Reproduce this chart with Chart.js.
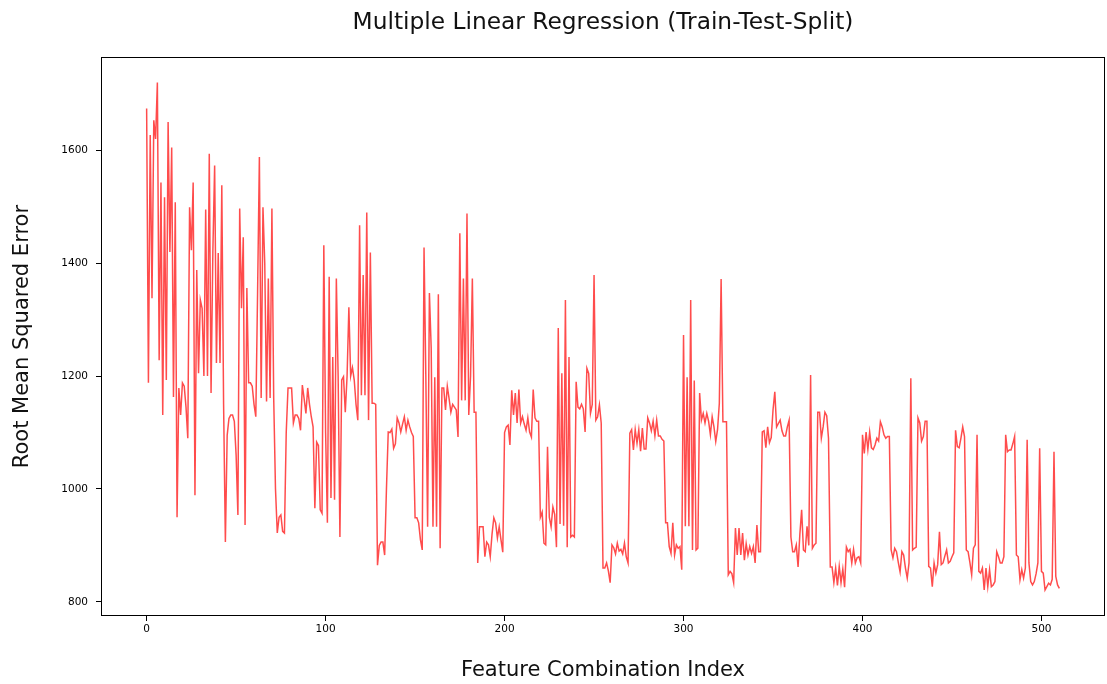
<!DOCTYPE html>
<html>
<head>
<meta charset="utf-8">
<title>Multiple Linear Regression (Train-Test-Split)</title>
<script src="https://cdn.jsdelivr.net/npm/chart.js@4.4.1/dist/chart.umd.min.js"></script>
<style>
  html, body { margin: 0; padding: 0; background: #fff; }
  canvas { display: block; }
</style>
</head>
<body>
<canvas id="rmse" width="1107" height="684"></canvas>
<script>
// RMSE of every feature combination (index 0..510)
var rmse = [
  1674, 1188, 1627, 1338, 1653, 1620, 1720, 1228, 1543, 1131,
  1517, 1193, 1650, 1420, 1605, 1163, 1508, 950, 1179, 1131,
  1188, 1182, 1145, 1090, 1499, 1423, 1543, 989, 1388, 1205,
  1335, 1320, 1200, 1495, 1200, 1594, 1170, 1420, 1573, 1223,
  1418, 1223, 1538, 1150, 906, 1095, 1125, 1131, 1131, 1120,
  1060, 954, 1497, 1320, 1446, 936, 1356, 1188, 1188, 1182,
  1150, 1128, 1350, 1588, 1161, 1499, 1400, 1155, 1373, 1161,
  1497, 1161, 1000, 922, 950, 954, 925, 922, 1100, 1179,
  1179, 1179, 1117, 1131, 1131, 1125, 1104, 1184, 1160, 1134,
  1179, 1150, 1128, 1110, 966, 1083, 1077, 963, 957, 1432,
  1100, 940, 1376, 984, 1234, 981, 1373, 1200, 915, 1193,
  1199, 1136, 1200, 1322, 1200, 1215, 1193, 1150, 1122, 1467,
  1166, 1379, 1166, 1490, 1122, 1419, 1152, 1152, 1150, 865,
  900, 906, 906, 883, 1000, 1101, 1100, 1106, 1072, 1080,
  1126, 1117, 1101, 1115, 1128, 1104, 1122, 1110, 1100, 1093,
  949, 949, 940, 910, 892, 1428, 1200, 933, 1347, 1250,
  933, 1198, 933, 1345, 895, 1179, 1179, 1140, 1182, 1160,
  1136, 1150, 1145, 1140, 1092, 1453, 1157, 1373, 1157, 1488,
  1131, 1200, 1373, 1136, 1136, 869, 933, 933, 933, 880,
  906, 901, 880, 920, 949, 940, 913, 933, 910, 888,
  1100, 1110, 1113, 1078, 1175, 1131, 1170, 1117, 1176, 1117,
  1128, 1115, 1104, 1126, 1101, 1092, 1176, 1126, 1120, 1120,
  950, 959, 904, 901, 1075, 950, 933, 968, 955, 897,
  1285, 938, 1205, 935, 1335, 897, 1234, 915, 918, 915,
  1190, 1145, 1142, 1150, 1142, 1101, 1214, 1205, 1134, 1150,
  1379, 1122, 1128, 1149, 1117, 860, 860, 869, 855, 834,
  901, 896, 885, 904, 890, 893, 885, 904, 880, 869,
  1099, 1105, 1069, 1105, 1081, 1105, 1067, 1108, 1071, 1071,
  1126, 1117, 1103, 1120, 1094, 1122, 1094, 1094, 1088, 1085,
  940, 940, 898, 886, 940, 883, 901, 895, 898, 857,
  1273, 934, 1198, 934, 1335, 892, 1192, 892, 895, 1170,
  1122, 1134, 1117, 1134, 1120, 1096, 1128, 1110, 1084, 1105,
  1152, 1372, 1119, 1119, 1119, 848, 854, 850, 834, 931,
  883, 931, 883, 922, 874, 903, 883, 898, 886, 898,
  869, 936, 889, 889, 1101, 1103, 1073, 1110, 1082, 1091,
  1140, 1172, 1110, 1116, 1122, 1103, 1094, 1094, 1110, 1122,
  915, 889, 889, 901, 862, 920, 963, 892, 889, 934,
  900, 1202, 895, 901, 904, 1136, 1136, 1090, 1110, 1136,
  1130, 1090, 862, 862, 834, 860, 829, 863, 834, 858,
  826, 897, 889, 893, 869, 893, 869, 878, 880, 869,
  1096, 1063, 1101, 1070, 1101, 1073, 1070, 1078, 1090, 1085,
  1119, 1110, 1096, 1090, 1093, 1093, 892, 878, 895, 889,
  870, 853, 889, 883, 860, 842, 869, 1196, 892, 895,
  897, 1126, 1117, 1085, 1093, 1120, 1120, 863, 860, 827,
  869, 851, 866, 924, 866, 869, 881, 892, 869, 872,
  880, 887, 1104, 1075, 1073, 1090, 1110, 1093, 892, 889,
  870, 848, 895, 901, 1096, 854, 851, 860, 821, 860,
  827, 857, 827, 830, 836, 889, 880, 869, 869, 880,
  1096, 1066, 1069, 1069, 1080, 1093, 883, 880, 839, 857,
  842, 860, 1087, 869, 836, 830, 836, 850, 869, 1072,
  854, 851, 821, 827, 833, 830, 840, 1066, 845, 830,
  824
];

var xTicks = [0, 100, 200, 300, 400, 500];
var yTicks = [800, 1000, 1200, 1400, 1600];

var points = rmse.map(function (v, i) { return { x: i, y: v }; });

// frame around the plot area, like matplotlib spines
var frame = {
  id: "frame",
  afterDraw: function (chart) {
    var a = chart.chartArea;
    var c = chart.ctx;
    c.save();
    c.strokeStyle = "#000";
    c.lineWidth = 1;
    c.strokeRect(Math.round(a.left) + 0.5, Math.round(a.top) + 0.5,
                 Math.round(a.right - a.left) - 1, Math.round(a.bottom - a.top) - 1);
    c.restore();
  }
};

var tickFont = { family: "DejaVu Sans", size: 10.5 };
var labelFont = { family: "DejaVu Sans", size: 21 };
var plain = function (v) { return String(v); };

new Chart(document.getElementById("rmse").getContext("2d"), {
  type: "line",
  data: {
    datasets: [{
      data: points,
      borderColor: "rgba(255, 0, 0, 0.7)",
      borderWidth: 1.5,
      pointRadius: 0,
      tension: 0,
      fill: false
    }]
  },
  options: {
    responsive: false,
    animation: false,
    devicePixelRatio: 1,
    layout: { padding: { left: 0, right: 2, top: 0, bottom: 0 } },
    plugins: {
      legend: { display: false },
      tooltip: { enabled: false },
      title: {
        display: true,
        fullSize: false,
        text: "Multiple Linear Regression (Train-Test-Split)",
        color: "#111",
        font: { family: "DejaVu Sans", size: 23.3, weight: "normal" },
        padding: { top: 9, bottom: 20.2 }
      }
    },
    scales: {
      x: {
        type: "linear",
        min: -25.5,
        max: 535.5,
        afterBuildTicks: function (s) { s.ticks = xTicks.map(function (v) { return { value: v }; }); },
        afterFit: function (s) { s.height = 68; },
        grid: { display: true, drawOnChartArea: false, drawTicks: true, tickLength: 5, color: "#000" },
        border: { display: false },
        ticks: { color: "#000", font: tickFont, padding: 2, maxRotation: 0, callback: plain },
        title: {
          display: true, text: "Feature Combination Index", color: "#111",
          font: { family: "DejaVu Sans", size: 21, lineHeight: 0.9 }, padding: { top: 0 }
        }
      },
      y: {
        type: "linear",
        min: 775,
        max: 1765,
        afterBuildTicks: function (s) { s.ticks = yTicks.map(function (v) { return { value: v }; }); },
        afterFit: function (s) { s.width = 101; },
        grid: { display: true, drawOnChartArea: false, drawTicks: true, tickLength: 5, color: "#000" },
        border: { display: false },
        ticks: { color: "#000", font: tickFont, padding: 8, callback: plain },
        title: { display: true, text: "Root Mean Squared Error", color: "#111", font: labelFont, padding: { top: 10 } }
      }
    }
  },
  plugins: [frame]
});
</script>
</body>
</html>
